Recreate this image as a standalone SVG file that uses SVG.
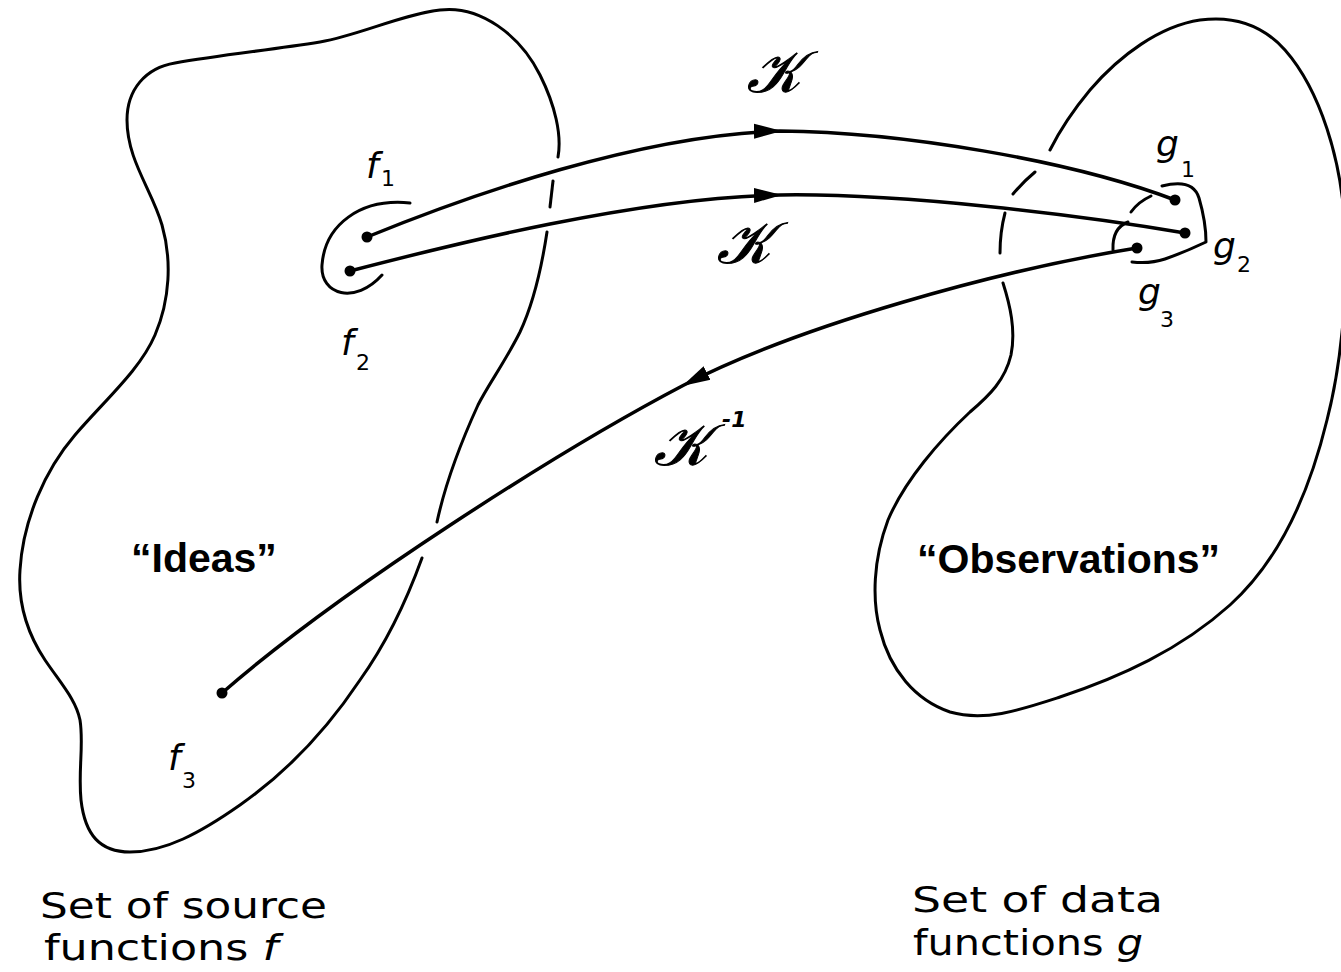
<svg xmlns="http://www.w3.org/2000/svg" width="1341" height="972" viewBox="0 0 1341 972">
<style>
.outline{fill:none;stroke:#000;stroke-width:3;stroke-linecap:round;stroke-linejoin:round}
.conn{fill:none;stroke:#000;stroke-width:3.5;stroke-linecap:round}
.dot{fill:#000}
.lab{font-family:"DejaVu Sans",sans-serif;font-style:italic;font-size:36px;fill:#000}
.sub{font-family:"DejaVu Sans",sans-serif;font-size:22px;fill:#000}
.cap{font-family:"DejaVu Sans Condensed","DejaVu Sans",sans-serif;font-size:36px;fill:#000}
.big{font-family:"Liberation Sans",Arial,sans-serif;font-weight:bold;font-size:41px;fill:#000}
.op{font-family:"DejaVu Serif","DejaVu Sans","Noto Sans",serif;font-style:italic;font-size:58px;fill:#000;stroke:#000;stroke-width:1}
</style>
<defs>
<marker id="ah" markerUnits="userSpaceOnUse" markerWidth="28" markerHeight="18" viewBox="0 0 28 18" refX="26" refY="9" orient="auto">
<path d="M0,1.5 L28,9 L0,16.5 z" fill="#000"/>
</marker>
</defs>
<g id="source-set">
<path class="outline" d="M547,232 C542,265 535,300 520,332 C505,362 488,385 478,405 C462,440 445,485 437,522"/>
<path class="outline" d="M422,558 C405,605 385,645 360,680 C330,725 290,770 240,805 C200,833 165,852 130,852 C100,852 85,835 81,800 C78,770 84,745 80,720 C76,700 62,685 45,660 C25,630 18,600 20,570 C23,520 45,470 75,435 C105,400 140,370 155,335 C170,300 172,260 162,225 C152,190 127,160 127,120 C127,90 145,68 175,63 C220,55 270,50 320,42 C360,35 400,15 440,10 C480,5 520,35 540,75 C555,105 562,135 558,157"/>
<path class="outline" d="M553,181 L550,207"/>
<text class="big" x="131" y="572">“Ideas”</text>
<text class="cap" x="40" y="918" textLength="287" lengthAdjust="spacingAndGlyphs">Set of source</text>
<text class="cap" x="44" y="960" textLength="234" lengthAdjust="spacingAndGlyphs">functions <tspan font-style="italic">f</tspan></text>
</g>
<g id="data-set">
<path class="outline" d="M1003,283 C1010,305 1016,330 1011,355 C1005,380 990,395 970,412 C940,440 905,480 888,520 C873,560 872,600 880,630 C890,670 915,700 950,712 C985,722 1020,710 1060,697 C1120,677 1180,650 1230,605 C1280,560 1310,490 1327,420 C1340,370 1348,300 1345,230 C1342,160 1320,90 1285,50 C1260,22 1230,16 1200,20 C1160,26 1120,55 1090,90 C1075,108 1060,130 1050,150"/>
<path class="outline" d="M1035,172 Q1024,181 1013,194"/>
<path class="outline" d="M1005,213 Q1000,232 1000,253"/>
<text class="big" x="917" y="573">“Observations”</text>
<text class="cap" x="912" y="912" textLength="251" lengthAdjust="spacingAndGlyphs">Set of data</text>
<text class="cap" x="913" y="955" textLength="230" lengthAdjust="spacingAndGlyphs">functions <tspan font-style="italic">g</tspan></text>
</g>
<g id="f12">
<path class="outline" d="M410,203 C360,198 325,225 322,265 C320,295 355,305 382,275"/>
<circle class="dot" cx="367" cy="237" r="5.5"/>
<circle class="dot" cx="350" cy="271" r="5.5"/>
<text class="lab" x="366" y="178">f</text><text class="sub" x="381" y="186">1</text>
<text class="lab" x="341" y="355">f</text><text class="sub" x="356" y="370">2</text>
</g>
<g id="f3">
<circle class="dot" cx="222" cy="693" r="5.5"/>
<text class="lab" x="168" y="770">f</text><text class="sub" x="182" y="788">3</text>
</g>
<g id="g123">
<path class="outline" d="M1162,186 Q1193,178 1199,198 Q1206,222 1206,242 Q1185,252 1165,259 Q1150,264 1132,262"/>
<path class="outline" d="M1131,212 Q1138,202 1151,196"/>
<path class="outline" d="M1113,250 Q1112,228 1128,222"/>
<circle class="dot" cx="1175" cy="200" r="5.5"/>
<circle class="dot" cx="1185" cy="233" r="5.5"/>
<circle class="dot" cx="1137" cy="248" r="5.5"/>
<text class="lab" x="1156" y="156">g</text><text class="sub" x="1181" y="177">1</text>
<text class="lab" x="1213" y="258">g</text><text class="sub" x="1237" y="272">2</text>
<text class="lab" x="1138" y="304">g</text><text class="sub" x="1160" y="327">3</text>
</g>
<g id="connectors">
<path class="conn" marker-mid="url(#ah)" d="M367,237 C470,195 640,135 780,131 C900,132 1070,160 1175,200"/>
<path class="conn" marker-mid="url(#ah)" d="M350,271 C450,245 640,197 780,195 C900,193 1080,215 1185,233"/>
<path class="conn" marker-mid="url(#ah)" d="M1137,248 C1000,270 800,325 684,385 C560,450 340,590 222,693"/>
<text class="op" x="774" y="92" text-anchor="middle">𝒦</text>
<text class="op" x="744" y="263" text-anchor="middle">𝒦</text>
<text class="op" x="681" y="465" text-anchor="middle">𝒦</text>
<text class="sub" x="722" y="427" font-style="italic" font-weight="bold">-1</text>
</g>
</svg>
